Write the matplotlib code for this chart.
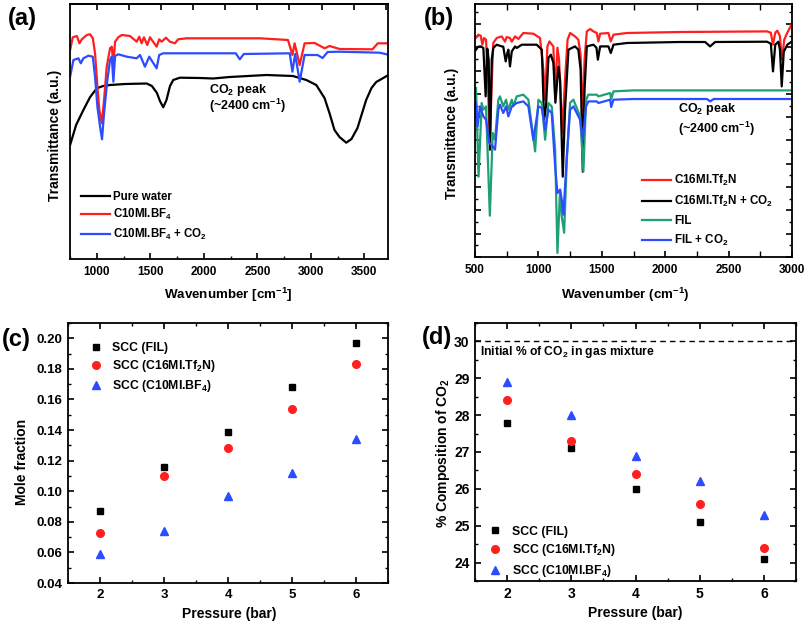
import matplotlib
matplotlib.use("Agg")
import matplotlib.pyplot as plt
from matplotlib.ticker import MultipleLocator, FixedLocator, NullFormatter, FormatStrFormatter
from matplotlib.lines import Line2D

plt.rcParams['font.family'] = ['Liberation Sans', 'DejaVu Sans']
plt.rcParams['font.weight'] = 'bold'
plt.rcParams['axes.labelweight'] = 'bold'
plt.rcParams['mathtext.default'] = 'regular'

# ---------------- Panel (a) data: wavenumber (cm-1) / transmittance (a.u.)
a_water_x = [751, 807, 875, 938, 1000, 1059, 1124, 1264, 1466, 1515, 1562, 1590, 1621, 1651, 1684, 1714,
             1776, 1963, 2087, 2242, 2584, 2832, 2957, 3050, 3127, 3174, 3220, 3267, 3330, 3379, 3435,
             3516, 3566, 3610, 3671, 3708]
a_water_y = [114, 134, 149, 162, 170.7, 173, 174, 175, 175.5, 173, 166, 158, 151.7, 159, 173, 179,
             181.3, 181, 180.5, 182, 184, 183, 179, 174, 161, 145.7, 129, 122, 116.3, 120, 131,
             159, 171, 177, 180.7, 183]
a_bf4_x = [751, 776, 814, 838, 860, 907, 938, 963, 984, 1006, 1024, 1047, 1068, 1093, 1124, 1140, 1155,
           1171, 1201, 1233, 1310, 1373, 1397, 1419, 1441, 1472, 1497, 1559, 1583, 1606, 1646, 1683,
           1730, 1760, 1839, 2522, 2786, 2827, 2848, 2895, 2941, 3035, 3128, 3174, 3268, 3575, 3625, 3706]
a_bf4_y = [209, 221.7, 223, 215.7, 219.7, 224, 224.7, 220.7, 205.7, 172.3, 149, 135.7, 159, 192.3, 210.7,
           212.3, 195.7, 217.3, 221.7, 224, 223, 217.3, 222.3, 215.7, 221.7, 214, 221.7, 212.3, 219.7,
           217.3, 221.3, 217.3, 215.7, 219.7, 220.7, 220.7, 219, 204, 215.7, 194, 215.7, 216, 210.7,
           213, 210, 209.7, 215.7, 215.7]
a_bf4co2_x = [751, 782, 829, 851, 875, 922, 963, 984, 1006, 1031, 1049, 1068, 1099, 1124, 1140, 1155,
              1171, 1201, 1280, 1373, 1404, 1450, 1490, 1559, 1583, 1621, 1963, 2298, 2336, 2373, 2802,
              2827, 2853, 2895, 2941, 3062, 3109, 3156, 3268, 3641, 3706]
a_bf4co2_y = [182.3, 199, 200.7, 195.7, 200.7, 203.3, 202.3, 182.3, 152.3, 132.3, 119.7, 145.7, 179,
              199, 202.3, 177.3, 203, 204.7, 202.3, 200.7, 204, 192.3, 202.3, 190.7, 204, 205.7, 205.7,
              205.7, 199.7, 205, 205.7, 187.3, 205, 177.3, 204, 204, 201, 207, 207.3, 206.3, 204.7]
a_labels = ['Pure water', 'C10MI.BF$_4$', 'C10MI.BF$_4$ + CO$_2$']

# ---------------- Panel (b) data
b_tf2n_x = [508, 526, 545, 558, 571, 587, 603, 618, 630, 644, 671, 711, 737, 750, 776, 790, 816, 842, 881,
            960, 1013, 1039, 1053, 1071, 1087, 1118, 1132, 1150, 1163, 1189, 1210, 1230, 1250, 1289, 1315,
            1333, 1350, 1364, 1382, 1408, 1434, 1461, 1473, 1487, 1552, 1571, 1592, 1698, 2118, 2803,
            2833, 2850, 2868, 2884, 2904, 2921, 2939, 2963, 3000]
b_tf2n_y = [219.3, 222.3, 221.3, 212.3, 219, 217.3, 167.3, 114.3, 167.3, 214, 219, 220.6, 215.3, 220, 219,
            215.3, 220.6, 218, 224, 223.3, 219, 187.3, 157.3, 210.6, 215.6, 210.6, 162.3, 209.3, 197.3,
            124.3, 177.3, 217.3, 224, 220.6, 217.3, 202.3, 137.3, 197.3, 225.6, 228, 225.6, 224, 215.6,
            223.3, 224, 215.6, 222.3, 224, 225, 225.6, 224.3, 212.3, 224.3, 226.3, 221.3, 197.3, 217.3,
            224.3, 233.3]
b_tf2nco2_x = [508, 524, 545, 566, 584, 597, 608, 618, 632, 644, 671, 711, 723, 742, 755, 763, 776, 790,
               816, 829, 869, 987, 1027, 1045, 1060, 1079, 1098, 1118, 1134, 1158, 1171, 1192, 1210, 1237,
               1263, 1289, 1315, 1333, 1350, 1364, 1382, 1434, 1458, 1469, 1487, 1552, 1571, 1592, 1698,
               2118, 2315, 2354, 2394, 2803, 2833, 2850, 2868, 2892, 2905, 2919, 2935, 2963, 3000]
b_tf2nco2_y = [207.3, 210.3, 210.6, 209, 160.6, 208.3, 197.3, 107.3, 197.3, 209, 212.3, 210.6, 210.3,
               195.6, 204, 207.3, 190.6, 205.6, 210.6, 209, 212.3, 212.3, 207.3, 137.3, 150.3, 199, 202.3,
               194.3, 154.3, 190.3, 177.3, 80.3, 147.3, 207.3, 209, 210.6, 207.3, 187.3, 85.3, 167.3,
               210.6, 212.3, 209.3, 197.3, 210.6, 210.6, 204, 212.3, 214, 215, 215, 210.6, 215, 215.3,
               213.3, 185.6, 212.3, 215.3, 207.3, 170.6, 205.3, 212.3, 215.6]
b_fil_x = [508, 528, 553, 566, 587, 617, 640, 658, 684, 697, 723, 745, 763, 790, 802, 829, 881, 921, 974,
           1000, 1027, 1053, 1079, 1105, 1132, 1150, 1171, 1184, 1203, 1224, 1250, 1276, 1329, 1355, 1376,
           1394, 1461, 1473, 1566, 1574, 1592, 1747, 3000]
b_fil_y = [169, 80.3, 154, 147.3, 150.6, 41.3, 124, 117.3, 157.3, 160.6, 150.6, 157.3, 147.3, 157.3, 150.6,
           160.6, 162.3, 157.3, 105.6, 157.3, 154, 117.3, 154, 150.6, 107.3, 4, 67.3, 40.6, 24.3, 97.3,
           154.3, 157.3, 140.6, 85.6, 157.3, 162.3, 162.3, 160.6, 164, 158, 165.6, 166.6, 166.6]
b_filco2_x = [508, 520, 539, 566, 587, 613, 640, 658, 684, 697, 723, 745, 763, 790, 829, 881, 921, 960,
              1000, 1027, 1053, 1079, 1105, 1132, 1150, 1171, 1184, 1197, 1224, 1250, 1276, 1329, 1350,
              1376, 1394, 1461, 1473, 1566, 1574, 1592, 1750, 2329, 2355, 2382, 3000]
b_filco2_y = [154.3, 130.6, 150.6, 140.6, 137.3, 114, 110.6, 107.3, 147.3, 152.3, 144, 150.6, 140.6, 150.6,
              154, 155.6, 150.6, 117.3, 150.6, 149, 127.3, 147.3, 144, 90.6, 64, 67.3, 57.3, 42.3, 100.6,
              147.3, 150.6, 137.3, 117.3, 150.6, 155.6, 155.6, 154, 157.3, 150, 157.3, 158, 158, 155.6,
              158, 158]
b_labels = ['C16MI.Tf$_2$N', 'C16MI.Tf$_2$N + CO$_2$', 'FIL', 'FIL + CO$_2$']

# ---------------- Panels (c) and (d) data
pressure = [2, 3, 4, 5, 6]
c_fil = [0.087, 0.116, 0.139, 0.168, 0.197]
c_tf2n = [0.073, 0.110, 0.128, 0.154, 0.183]
c_bf4 = [0.059, 0.074, 0.097, 0.112, 0.134]
d_fil = [27.8, 27.1, 26.0, 25.1, 24.1]
d_tf2n = [28.4, 27.3, 26.4, 25.6, 24.4]
d_bf4 = [28.9, 28.0, 26.9, 26.2, 25.3]
initial_co2 = 30
scc_labels = ['SCC (FIL)', 'SCC (C16MI.Tf$_2$N)', 'SCC (C10MI.BF$_4$)']

RED = '#ff1f1f'
BLUE = '#2b4cff'
GREEN = '#1f9e78'
BLACK = '#000000'

W, H = 808, 626
fig = plt.figure(figsize=(W / 100, H / 100), dpi=100)


def box(l, t, r, b):
    return [l / W, 1 - b / H, (r - l) / W, (b - t) / H]


TICK = 8.5
TICK2 = 9.5
LAB = 10

# ---- (a)
ax = fig.add_axes(box(70, 4, 388, 259))
ax.plot(a_water_x, a_water_y, color=BLACK, lw=1.6)
ax.plot(a_bf4_x, a_bf4_y, color=RED, lw=1.6)
ax.plot(a_bf4co2_x, a_bf4co2_y, color=BLUE, lw=1.6)
ax.set_xlim(750, 3720)
ax.set_ylim(0, 255)
ax.set_yticks([])
ax.xaxis.set_major_locator(MultipleLocator(500))
ax.xaxis.set_minor_locator(MultipleLocator(250))
ax.tick_params(axis='x', which='both', direction='in', labelsize=TICK, pad=5)
ax.tick_params(axis='x', which='major', length=4, width=1.2)
ax.tick_params(axis='x', which='minor', length=2.5, width=1.0)
top = ax.secondary_xaxis('top')
top.xaxis.set_major_locator(FixedLocator(list(range(1000, 3720, 300))))
top.tick_params(direction='in', length=4, width=1.2, labeltop=False)
top.xaxis.set_major_formatter(NullFormatter())
for s in list(ax.spines.values()) + list(top.spines.values()):
    s.set_linewidth(1.3)
ax.text(0.437, 0.652, 'CO$_2$ peak', transform=ax.transAxes, fontsize=9, va='baseline', ha='left')
ax.text(0.437, 0.585, '(~2400 cm$^{-1}$)', transform=ax.transAxes, fontsize=9, va='baseline', ha='left')
ax.legend([Line2D([], [], color=c, lw=1.6) for c in (BLACK, RED, BLUE)], a_labels,
          loc='lower left', bbox_to_anchor=(0.035, 0.065), frameon=False, fontsize=8.3,
          handlelength=2.5, handletextpad=0.3, labelspacing=0.42, borderpad=0, borderaxespad=0)

# ---- (b)
bx = fig.add_axes(box(475, 4, 792, 257))
bx.plot(b_tf2n_x, b_tf2n_y, color=RED, lw=1.6)
bx.plot(b_tf2nco2_x, b_tf2nco2_y, color=BLACK, lw=1.6)
bx.plot(b_fil_x, b_fil_y, color=GREEN, lw=1.6)
bx.plot(b_filco2_x, b_filco2_y, color=BLUE, lw=1.6)
bx.set_xlim(500, 3000)
bx.set_ylim(0, 253)
bx.xaxis.set_major_locator(MultipleLocator(500))
bx.xaxis.set_minor_locator(MultipleLocator(250))
bx.yaxis.set_major_locator(MultipleLocator(23.3))
bx.yaxis.set_minor_locator(MultipleLocator(11.65))
bx.yaxis.set_major_formatter(NullFormatter())
bx.tick_params(which='both', direction='in', top=True, right=True, labelsize=TICK, pad=5)
bx.tick_params(which='major', length=4, width=1.2)
bx.tick_params(which='minor', length=2.5, width=1.0)
bx.tick_params(axis='x', which='minor', top=True, length=4)
for s in bx.spines.values():
    s.set_linewidth(1.3)
bx.text(0.641, 0.575, 'CO$_2$ peak', transform=bx.transAxes, fontsize=9, va='baseline', ha='left')
bx.text(0.641, 0.49, '(~2400 cm$^{-1}$)', transform=bx.transAxes, fontsize=9, va='baseline', ha='left')
bx.legend([Line2D([], [], color=c, lw=1.6) for c in (RED, BLACK, GREEN, BLUE)], b_labels,
          loc='lower left', bbox_to_anchor=(0.526, 0.035), frameon=False, fontsize=8.4,
          handlelength=2.5, handletextpad=0.3, labelspacing=0.5, borderpad=0, borderaxespad=0)

# ---- (c)
cx = fig.add_axes(box(68, 323, 388, 583))
cx.plot(pressure, c_fil, 's', color=BLACK, ms=5, label=scc_labels[0])
cx.plot(pressure, c_tf2n, 'o', color=RED, ms=5.5, label=scc_labels[1])
cx.plot(pressure, c_bf4, '^', color=BLUE, ms=6, label=scc_labels[2])
cx.set_xlim(1.5, 6.5)
cx.set_ylim(0.04, 0.21)
cx.xaxis.set_major_locator(MultipleLocator(1))
cx.xaxis.set_minor_locator(MultipleLocator(0.5))
cx.yaxis.set_major_locator(MultipleLocator(0.02))
cx.yaxis.set_minor_locator(MultipleLocator(0.01))
cx.yaxis.set_major_formatter(FormatStrFormatter('%.2f'))
cx.tick_params(which='both', direction='in', top=True, right=True, labelsize=TICK2, pad=4)
cx.tick_params(which='major', length=4, width=1.2)
cx.tick_params(which='minor', length=2.5, width=1.0)
for s in cx.spines.values():
    s.set_linewidth(1.3)
cx.legend(loc='upper left', bbox_to_anchor=(0.05, 0.925), frameon=False, fontsize=8.8,
          handletextpad=0.3, labelspacing=0.3, borderpad=0, borderaxespad=0)

# ---- (d)
dx = fig.add_axes(box(475, 323, 796, 581))
dx.axhline(initial_co2, color=BLACK, lw=1.0, ls=(0, (4, 3)))
dx.plot(pressure, d_fil, 's', color=BLACK, ms=5, label=scc_labels[0])
dx.plot(pressure, d_tf2n, 'o', color=RED, ms=5.5, label=scc_labels[1])
dx.plot(pressure, d_bf4, '^', color=BLUE, ms=6, label=scc_labels[2])
dx.set_xlim(1.5, 6.5)
dx.set_ylim(23.5, 30.5)
dx.xaxis.set_major_locator(MultipleLocator(1))
dx.xaxis.set_minor_locator(MultipleLocator(0.5))
dx.yaxis.set_major_locator(MultipleLocator(1))
dx.yaxis.set_minor_locator(MultipleLocator(0.5))
dx.tick_params(which='both', direction='in', top=True, right=True, labelsize=TICK2 + 0.5, pad=4)
dx.tick_params(which='major', length=4, width=1.2)
dx.tick_params(which='minor', length=2.5, width=1.0)
for s in dx.spines.values():
    s.set_linewidth(1.3)
dx.text(0.016, 0.888, 'Initial % of CO$_2$ in gas mixture', transform=dx.transAxes,
        fontsize=8.7, va='center', ha='left')
dx.legend(loc='lower left', bbox_to_anchor=(0.025, 0.008), frameon=False, fontsize=8.8,
          handletextpad=0.4, labelspacing=0.38, borderpad=0, borderaxespad=0)


# ---- axis labels & panel letters
def ftext(x, y, s, **kw):
    fig.text(x / W, 1 - y / H, s, ha='center', va='center', fontweight='bold', **kw)


ftext(55, 135, 'Transmittance (a.u.)', rotation=90, fontsize=LAB)
ftext(228, 295, 'Wavenumber [cm$^{-1}$]', fontsize=9.6)
ftext(452, 133, 'Transmittance (a.u.)', rotation=90, fontsize=LAB)
ftext(625, 295, 'Wavenumber (cm$^{-1}$)', fontsize=9.6)
ftext(22, 462, 'Mole fraction', rotation=90, fontsize=LAB)
ftext(229, 614, 'Pressure (bar)', fontsize=LAB)
ftext(443, 453, '% Composition of CO$_2$', rotation=90, fontsize=LAB)
ftext(635, 613, 'Pressure (bar)', fontsize=LAB)
ftext(22, 19, '(a)', fontsize=17)
ftext(439, 19, '(b)', fontsize=17)
ftext(16, 340, '(c)', fontsize=17)
ftext(437, 337, '(d)', fontsize=17)

fig.savefig('out.png', dpi=100)
